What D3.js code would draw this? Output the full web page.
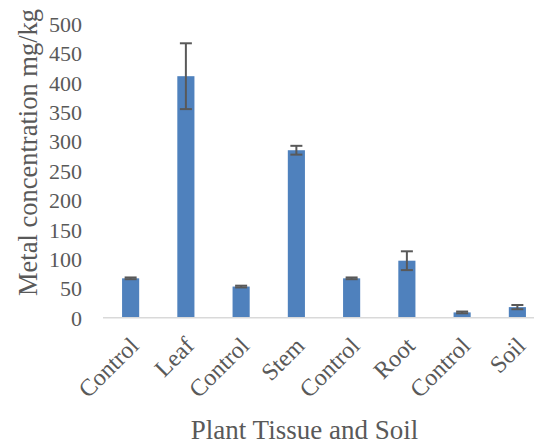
<!DOCTYPE html>
<html><head><meta charset="utf-8">
<script src="https://cdn.jsdelivr.net/npm/d3@7"></script>
<style>body{margin:0;background:#fff}svg{display:block}</style>
</head><body>
<script>
const categories = ["Control","Leaf","Control","Stem","Control","Root","Control","Soil"];
const values = [67, 411, 53, 285, 67, 97, 9, 18];
const errors = [1.5, 56, 1.5, 7.5, 1.5, 16, 1.5, 3.6];
const yTicks = [0,50,100,150,200,250,300,350,400,450,500];
const yTitle = "Metal concentration mg/kg";
const xTitle = "Plant Tissue and Soil";

const W = 534, H = 443;
const svg = d3.select("body").append("svg").attr("width", W).attr("height", H);
const font = "'Liberation Serif','Times New Roman',serif";
const txt = "#595959";

const y = d3.scaleLinear().domain([0, 500]).range([317.7, 23.9]);
const x = d3.scaleBand().domain(d3.range(categories.length)).range([103, 545])
  .paddingInner(0.69).paddingOuter(0.345);

// y tick labels
const yAxis = d3.axisLeft(y).tickValues(yTicks).tickSize(0).tickPadding(0);
const gy = svg.append("g").attr("transform", "translate(82,0)").call(yAxis);
gy.select(".domain").remove();
gy.selectAll("text").attr("font-family", font).attr("font-size", 22).attr("fill", txt).attr("dy", "0.34em");

// bars
svg.append("g").selectAll("rect").data(values).join("rect")
  .attr("x", (d, i) => x(i)).attr("width", x.bandwidth())
  .attr("y", d => y(d)).attr("height", d => y(0) - y(d))
  .attr("fill", "#4f81bd");

// baseline
svg.append("line").attr("x1", 103).attr("x2", 534).attr("y1", y(0)).attr("y2", y(0))
  .attr("stroke", "#d9d9d9").attr("stroke-width", 1.5);

// error bars
const eg = svg.append("g").attr("stroke", "#595959").attr("stroke-width", 2);
values.forEach((v, i) => {
  const cx = x(i) + x.bandwidth() / 2;
  const e = errors[i];
  eg.append("line").attr("x1", cx).attr("x2", cx).attr("y1", y(v + e)).attr("y2", y(v - e));
  eg.append("line").attr("x1", cx - 6).attr("x2", cx + 6).attr("y1", y(v + e)).attr("y2", y(v + e));
  eg.append("line").attr("x1", cx - 6).attr("x2", cx + 6).attr("y1", y(v - e)).attr("y2", y(v - e));
});

// x category labels
const xAxis = d3.axisBottom(x).tickSize(0).tickFormat(i => categories[i]);
const gx = svg.append("g").attr("transform", `translate(0,${y(0)})`).call(xAxis);
gx.select(".domain").remove();
gx.selectAll("text").attr("font-family", font).attr("font-size", 24).attr("fill", txt)
  .attr("text-anchor", "end").attr("x", 0).attr("y", 0).attr("dy", 0)
  .attr("transform", "translate(9.5,29.5) rotate(-45)");

// titles
svg.append("text").attr("x", 304.5).attr("y", 439).attr("text-anchor", "middle")
  .attr("font-family", font).attr("font-size", 27).attr("fill", txt).text(xTitle);
svg.append("text").attr("transform", "translate(37,152.5) rotate(-90)").attr("text-anchor", "middle")
  .attr("font-family", font).attr("font-size", 26.5).attr("fill", txt).text(yTitle);
</script>
</body></html>
